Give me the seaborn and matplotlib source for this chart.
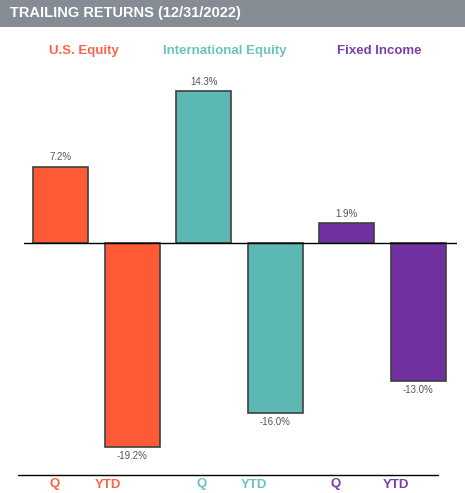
import matplotlib
matplotlib.use("Agg")
import matplotlib.pyplot as plt
import seaborn as sns
import pandas as pd
from matplotlib.patches import Rectangle

groups = ["U.S. Equity", "International Equity", "Fixed Income"]
periods = ["Q", "YTD", "Q", "YTD", "Q", "YTD"]
bar_ids = ["US Q", "US YTD", "Intl Q", "Intl YTD", "FI Q", "FI YTD"]
values = [7.2, -19.2, 14.3, -16.0, 1.9, -13.0]
value_labels = ["7.2%", "-19.2%", "14.3%", "-16.0%", "1.9%", "-13.0%"]
title = "TRAILING RETURNS (12/31/2022)"

bar_colors = ["#FF5A36", "#FF5A36", "#5CB8B2", "#5CB8B2", "#7030A0", "#7030A0"]
text_colors = ["#FF6347", "#6CC3BD", "#7B3FA8"]

W, H = 465, 493
fig = plt.figure(figsize=(W / 100, H / 100), dpi=100)
sns.set_style("white")
plt.rcParams["font.family"] = ["Liberation Sans", "DejaVu Sans"]

def fx(px):
    return px / W

def fy(py):
    return 1 - py / H

# header bar
fig.patches.append(Rectangle((0, fy(27)), 1, 27 / H, transform=fig.transFigure,
                             facecolor="#858C94", edgecolor="none", zorder=0))
fig.text(fx(10), fy(13.5), title, color="white", fontsize=10.5, fontweight="bold",
         va="center", ha="left")

# main axes
ax_left, ax_right, ax_top, ax_bot = 24, 457, 70, 470
ax = fig.add_axes([fx(ax_left), fy(ax_bot), (ax_right - ax_left) / W, (ax_bot - ax_top) / H])
df = pd.DataFrame({"bar": bar_ids, "value": values})
sns.barplot(data=df, x="bar", y="value", hue="bar", palette=bar_colors, order=bar_ids,
            legend=False, width=0.77, edgecolor="#404040", linewidth=1.2, ax=ax, saturation=1)
ax.set_xlim(-0.51, 5.54)
ax.set_ylim(-21.4, 16.3)
ax.axhline(0, color="black", linewidth=1.0, zorder=5)
for s in ax.spines.values():
    s.set_visible(False)
ax.set_xticks([])
ax.set_yticks([])
ax.set_xlabel("")
ax.set_ylabel("")
for i, (v, lab) in enumerate(zip(values, value_labels)):
    off = 0.4 if v >= 0 else -0.4
    ax.text(i, v + off, lab, ha="center", va="bottom" if v >= 0 else "top",
            fontsize=7, color="#555555")

# group labels
for name, cx, c in zip(groups, [84, 225, 379], text_colors):
    fig.text(fx(cx), fy(51), name, color=c, fontsize=9.5, fontweight="bold",
             ha="center", va="center")

# bottom line and period labels
fig.add_artist(plt.Line2D([fx(18), fx(438)], [fy(475), fy(475)], color="black",
                          linewidth=1.0, transform=fig.transFigure))
for p, cx, c in zip(periods, [55, 108, 202, 254, 336, 396],
                    [text_colors[0], text_colors[0], text_colors[1], text_colors[1],
                     text_colors[2], text_colors[2]]):
    fig.text(fx(cx), fy(484.5), p, color=c, fontsize=9.5, fontweight="bold",
             ha="center", va="center")

fig.savefig("out.png", dpi=100)
